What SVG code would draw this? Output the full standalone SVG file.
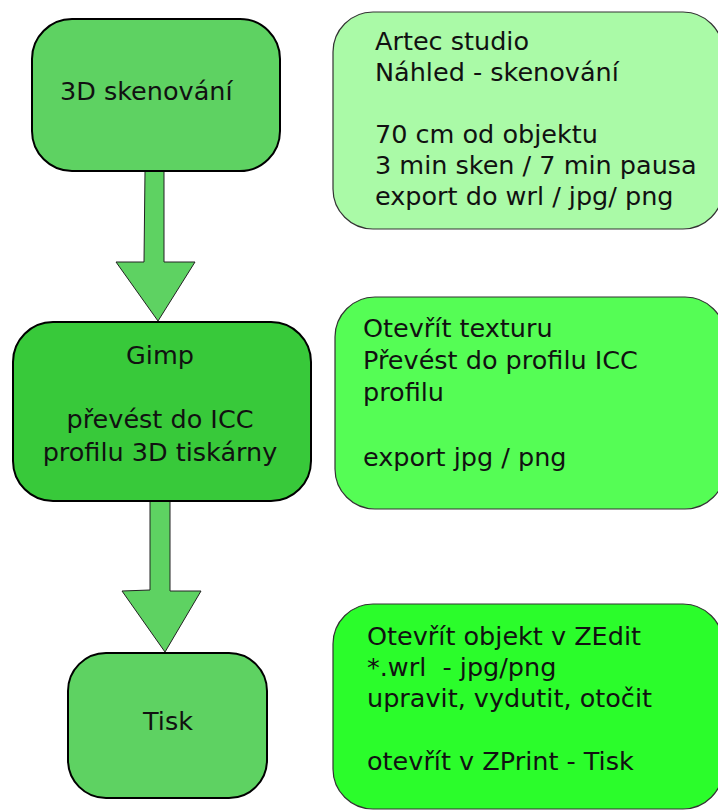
<svg xmlns="http://www.w3.org/2000/svg" width="718" height="812" viewBox="0 0 718 812">
<style>
text{font-family:"DejaVu Sans","Liberation Sans",sans-serif;font-size:25.5px;fill:#111}
.pre{white-space:pre}
.main{stroke:#000;stroke-width:2}
.side{stroke:#333;stroke-width:1.2}
.arrow{fill:#5ed262;stroke:#222;stroke-width:1}
</style>
<rect width="718" height="812" fill="#fff"/>
<g id="connectors">
<path class="arrow" d="M145,171 L164,171 L164,262 L195,262 L158,321 L116,262 L144,262 Z"/>
<path class="arrow" d="M150,501 L170,501 L170,591 L201,591 L165,652 L122,591 L150,590 Z"/>
</g>
<g id="n1">
<rect class="main" x="32" y="19" width="248" height="152" rx="40" fill="#5ed262"/>
<text x="60" y="100">3D skenování</text>
</g>
<g id="n2">
<rect class="side" x="333" y="12" width="390" height="217" rx="40" fill="#aafaa7"/>
<text x="375"><tspan x="375" y="50">Artec studio</tspan><tspan x="375" y="81">Náhled - skenování</tspan><tspan x="375" y="143">70 cm od objektu</tspan><tspan x="375" y="174">3 min sken / 7 min pausa</tspan><tspan x="375" y="205">export do wrl / jpg/ png</tspan></text>
</g>
<g id="n3">
<rect class="main" x="13" y="322" width="298" height="179" rx="40" fill="#38c93a"/>
<text text-anchor="middle"><tspan x="160" y="364">Gimp</tspan><tspan x="160" y="428">převést do ICC</tspan><tspan x="160" y="461">profilu 3D tiskárny</tspan></text>
</g>
<g id="n4">
<rect class="side" x="335" y="297" width="390" height="212" rx="40" fill="#55fd55"/>
<text><tspan x="363" y="337">Otevřít texturu</tspan><tspan x="363" y="369">Převést do profilu ICC</tspan><tspan x="363" y="401">profilu</tspan><tspan x="363" y="466">export jpg / png</tspan></text>
</g>
<g id="n5">
<rect class="main" x="68" y="653" width="199" height="145" rx="38" fill="#5ed262"/>
<text x="168" y="730" text-anchor="middle">Tisk</text>
</g>
<g id="n6">
<rect class="side" x="333" y="604" width="390" height="205" rx="40" fill="#2bfd2b"/>
<text class="pre"><tspan x="367" y="645">Otevřít objekt v ZEdit</tspan><tspan x="367" y="676">*.wrl  - jpg/png</tspan><tspan x="367" y="707">upravit, vydutit, otočit</tspan><tspan x="367" y="770">otevřít v ZPrint - Tisk</tspan></text>
</g>
</svg>
